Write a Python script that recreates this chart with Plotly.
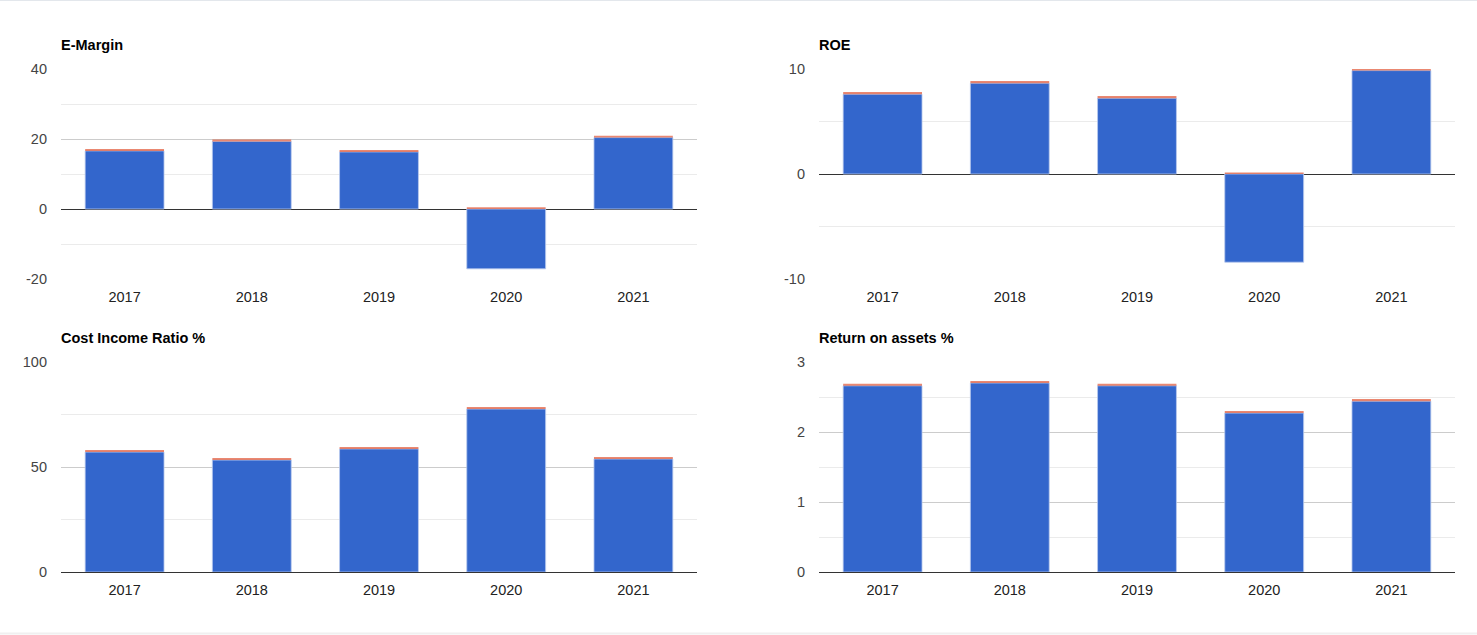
import plotly.graph_objects as go

W, H = 1477, 635
years = ["2017", "2018", "2019", "2020", "2021"]

emargin_main = [16.6, 19.3, 16.3, -17.1, 20.4]
emargin_adj = [0.55, 0.55, 0.55, 0.5, 0.55]
roe_main = [7.6, 8.65, 7.22, -8.4, 9.85]
roe_adj = [0.2, 0.2, 0.2, 0.15, 0.15]
cir_main = [57.1, 53.3, 58.6, 77.6, 53.8]
cir_adj = [0.95, 0.95, 0.95, 0.95, 0.95]
roa_main = [2.66, 2.70, 2.66, 2.27, 2.44]
roa_adj = [0.03, 0.03, 0.03, 0.03, 0.03]

emargin_ticks = [-20, 0, 20, 40]
roe_ticks = [-10, 0, 10]
cir_ticks = [0, 50, 100]
roa_ticks = [0, 1, 2, 3]

titles = ["E-Margin", "ROE", "Cost Income Ratio %", "Return on assets %"]
ranges = [(-20, 40), (-10, 10), (0, 100), (0, 3)]
tick_sets = [emargin_ticks, roe_ticks, cir_ticks, roa_ticks]
series = [(emargin_main, emargin_adj), (roe_main, roe_adj), (cir_main, cir_adj), (roa_main, roa_adj)]

# pixel boxes in window coordinates: (x0, x1, ytop, ybottom)
boxes = [(61, 697, 69, 279), (819, 1455, 69, 279), (61, 697, 362, 572), (819, 1455, 362, 572)]

BLUE = "#3366cc"
RED = "rgba(220,57,18,0.6)"
FONT = "Liberation Sans, Arial, sans-serif"
FS = 14.5


def px(x):
    return x / W


def py(y):
    return 1 - y / H


fig = go.Figure()
layout = dict(
    width=W, height=H, margin=dict(l=0, r=0, t=0, b=0, pad=0, autoexpand=False),
    paper_bgcolor="white", plot_bgcolor="white",
    barmode="relative", bargap=0.38, showlegend=False,
    font=dict(family=FONT, size=FS, color="#444"),
)
annotations = []
for i, (title, rng, ticks, (main, adj), box) in enumerate(zip(titles, ranges, tick_sets, series, boxes)):
    n = "" if i == 0 else str(i + 1)
    xa, ya = "x" + n, "y" + n
    fig.add_trace(go.Bar(x=years, y=main, xaxis=xa, yaxis=ya,
                         marker=dict(color=BLUE, line=dict(color="#b9c9ee", width=0.8)), hoverinfo="x+y"))
    fig.add_trace(go.Bar(x=years, y=adj, xaxis=xa, yaxis=ya,
                         marker=dict(color=RED, line=dict(width=0)), hoverinfo="x+y"))
    x0, x1, yt, yb = box
    step = ticks[1] - ticks[0]
    layout["xaxis" + n] = dict(
        domain=[px(x0), px(x1)], anchor=ya, showgrid=False, showline=False, ticks="",
        automargin=False,
        tickfont=dict(family=FONT, size=FS, color="#222"), ticklabelstandoff=7, fixedrange=True,
    )
    layout["yaxis" + n] = dict(
        domain=[py(yb), py(yt)], anchor=xa, range=list(rng),
        tickmode="array", tickvals=ticks, ticktext=[str(t) for t in ticks],
        automargin=False,
        showgrid=True, gridcolor="#cccccc", gridwidth=1,
        zeroline=True, zerolinecolor="#333333", zerolinewidth=1,
        minor=dict(tickmode="linear", tick0=ticks[0], dtick=step / 2, showgrid=True,
                   gridcolor="#ebebeb", gridwidth=1, ticks=""),
        showline=False, ticks="", ticklabelstandoff=13,
        tickfont=dict(family=FONT, size=FS, color="#444"), fixedrange=True,
    )
    annotations.append(dict(
        text="<b>" + title + "</b>", x=px(x0), y=py(yt - 24), xref="paper", yref="paper",
        xanchor="left", yanchor="middle", showarrow=False, xshift=-2,
        font=dict(family=FONT, size=FS, color="#000"),
    ))
layout["annotations"] = annotations
layout["shapes"] = [
    dict(type="line", xref="paper", yref="paper", x0=0, x1=1, y0=1, y1=1, line=dict(color="#e3e7ec", width=2)),
    dict(type="line", xref="paper", yref="paper", x0=0, x1=1, y0=1.5 / H, y1=1.5 / H, line=dict(color="#f0f0f0", width=2)),
]
fig.update_layout(**layout)
fig.write_html("out.html")
